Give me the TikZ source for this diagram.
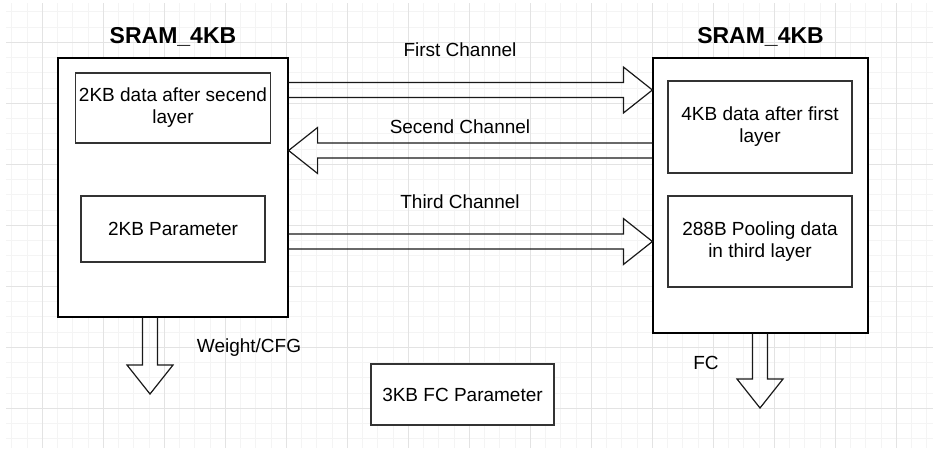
\documentclass[tikz,border=0pt]{standalone}
\usepackage{fontspec}
\setmainfont{Liberation Sans}
\usepackage{xcolor}
\usepackage{tikz}
\usetikzlibrary{calc}

\tikzset{
  gridminor/.style={draw=gray!9, line width=0.8pt},
  gridmajor/.style={draw=gray!22, line width=0.8pt},
  membox/.style={draw=black, line width=1.2pt, fill=white},
  databox/.style={draw=black!80, line width=1.2pt, fill=white, align=center,
    font=\fontsize{19}{22}\selectfont},
  title/.style={font=\fontsize{23}{26}\selectfont\bfseries, inner sep=0pt},
  chan/.style={font=\fontsize{19}{22}\selectfont, inner sep=0pt},
  fatline/.style={draw=black!90, line width=1.2pt, line join=miter},
}

% block arrow from #1 to #2
\newcommand{\fatarrow}[2]{%
  \draw[fatline] ($(#1)!7.5pt!90:(#2)$)
    -- ($($(#2)!29pt!(#1)$)!7.5pt!90:(#2)$)
    -- ($($(#2)!29pt!(#1)$)!23pt!90:(#2)$)
    -- (#2)
    -- ($($(#2)!29pt!(#1)$)!23pt!-90:(#2)$)
    -- ($($(#2)!29pt!(#1)$)!7.5pt!-90:(#2)$)
    -- ($(#1)!7.5pt!-90:(#2)$);}

\begin{document}
\begin{tikzpicture}[x=1pt, y=-1pt]
    \useasboundingbox (0,0) rectangle (933,448);
    % background grid
    \begin{scope}
        \clip (6,3) rectangle (933,448);
        \foreach \i in {-3,...,58} \draw[gridminor] (42.3+15.25*\i,0) -- (42.3+15.25*\i,448);
        \foreach \i in {-3,...,27} \draw[gridminor] (0,42.3+15.25*\i) -- (933,42.3+15.25*\i);
        \foreach \i in {-1,...,14} \draw[gridmajor] (42.3+61*\i,0) -- (42.3+61*\i,448);
        \foreach \i in {-1,...,7} \draw[gridmajor] (0,42.3+61*\i) -- (933,42.3+61*\i);
    \end{scope}

    % left memory
    \node[title] (ltitle) at (173,37) {SRAM\_4KB};
    \node[membox, minimum width=230pt, minimum height=259pt] (lmem) at (173,187.5) {};
    \node[databox, minimum width=184pt, minimum height=70pt] (lsecond) at (173,108)
        {2KB data after secend\\layer};
    \node[databox, minimum width=184pt, minimum height=66pt] (lparam) at (173,229)
        {2KB Parameter};

    % right memory
    \node[title] (rtitle) at (760.5,37) {SRAM\_4KB};
    \node[membox, minimum width=215pt, minimum height=275pt] (rmem) at (760.5,195.5) {};
    \node[databox, minimum width=184pt, minimum height=92pt] (rfirst) at (760,127)
        {4KB data after first\\layer};
    \node[databox, minimum width=184pt, minimum height=91pt] (rpool) at (760,241.5)
        {288B Pooling data\\in third layer};

    \node[databox, minimum width=183pt, minimum height=61pt] (fcparam) at (462.5,394.5)
        {3KB FC Parameter};

    % channels
    \coordinate (c1a) at (lmem.east |- 0,90);
    \coordinate (c1b) at (rmem.west |- 0,90);
    \coordinate (c2a) at (rmem.west |- 0,150.5);
    \coordinate (c2b) at (lmem.east |- 0,150.5);
    \coordinate (c3a) at (lmem.east |- 0,241.5);
    \coordinate (c3b) at (rmem.west |- 0,241.5);
    \fatarrow{c1a}{c1b}
    \fatarrow{c2a}{c2b}
    \fatarrow{c3a}{c3b}
    \node[chan] (first) at (460,50) {First Channel};
    \node[chan] (second) at (460,127) {Secend Channel};
    \node[chan] (third) at (460,202) {Third Channel};

    % outputs
    \coordinate (wa) at (150,0 |- lmem.south);
    \coordinate (wb) at (150,394);
    \coordinate (fa) at (760,0 |- rmem.south);
    \coordinate (fb) at (760,408);
    \fatarrow{wa}{wb}
    \fatarrow{fa}{fb}
    \node[chan] (weight) at (249,348) {Weight/CFG};
    \node[chan] (fc) at (706,363) {FC};
\end{tikzpicture}
\end{document}
